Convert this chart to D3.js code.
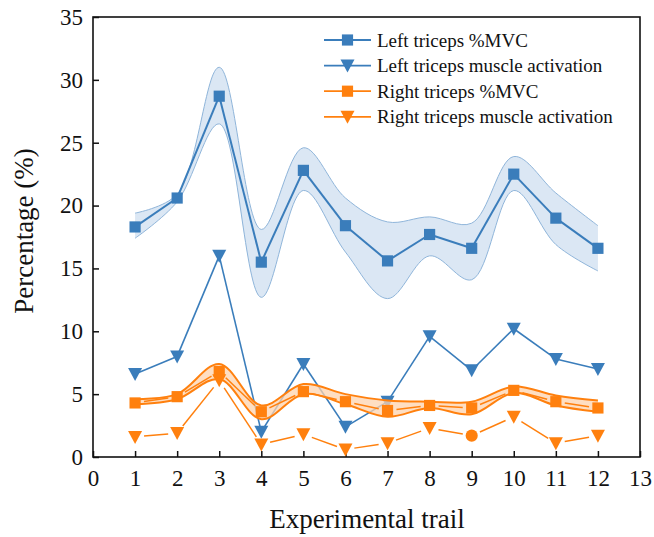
<!DOCTYPE html>
<html>
<head>
<meta charset="utf-8">
<script src="https://cdn.jsdelivr.net/npm/d3@7"></script>
<style>
  body { margin: 0; background: #fff; }
  svg text { font-family: "Liberation Serif", "Times New Roman", serif; fill: #111; }
</style>
</head>
<body>
<script>
//Data
const trials = [1, 2, 3, 4, 5, 6, 7, 8, 9, 10, 11, 12];
const leftMvc = [18.3, 20.6, 28.7, 15.5, 22.8, 18.4, 15.6, 17.7, 16.6, 22.5, 19.0, 16.6];
const leftMvcUpper = [19.4, 20.9, 31.0, 18.1, 24.6, 20.6, 18.7, 19.1, 18.6, 23.9, 21.0, 18.4];
const leftMvcLower = [17.4, 20.3, 26.5, 12.7, 21.2, 16.3, 12.6, 16.0, 14.1, 21.2, 16.9, 14.8];
const leftAct = [6.6, 8.0, 16.0, 2.0, 7.4, 2.4, 4.4, 9.6, 6.9, 10.2, 7.8, 7.0];
const rightMvc = [4.3, 4.8, 6.8, 3.6, 5.2, 4.4, 3.7, 4.1, 3.9, 5.3, 4.4, 3.9];
const rightMvcUpper = [4.6, 5.0, 7.4, 4.1, 5.8, 5.0, 4.5, 4.4, 4.4, 5.6, 4.9, 4.5];
const rightMvcLower = [4.2, 4.6, 6.2, 3.0, 5.0, 4.2, 3.2, 3.9, 3.4, 5.1, 4.1, 3.6];
const rightAct = [1.6, 1.9, 6.1, 1.0, 1.8, 0.6, 1.1, 2.3, 1.7, 3.2, 1.1, 1.7];
const xTicks = d3.range(0, 14);
const yTicks = [0, 5, 10, 15, 20, 25, 30, 35];
const legendLabels = ['Left triceps %MVC', 'Left triceps muscle activation',
                      'Right triceps %MVC', 'Right triceps muscle activation'];

const width = 654;
const height = 537;
const margin = {top: 17, right: 14, bottom: 80, left: 93};
const serif = '"Liberation Serif", "Times New Roman", serif';

const blue = '#3a7dbb';
const orange = '#ff800e';

const svg = d3.select('body').append('svg')
    .attr('width', width)
    .attr('height', height);

const x = d3.scaleLinear().domain([0, 13]).range([margin.left, width - margin.right]);
const y = d3.scaleLinear().domain([0, 35]).range([height - margin.bottom, margin.top]);

//Axes with inward ticks
svg.append('g')
    .attr('transform', `translate(0, ${y(0)})`)
    .call(d3.axisBottom(x).tickValues(xTicks).tickSize(-6).tickPadding(13).tickFormat(d3.format('d')))
    .call(g => g.select('.domain').remove())
    .call(g => g.selectAll('.tick line').attr('stroke', '#111').attr('stroke-width', 1.5))
    .call(g => g.selectAll('.tick text')
        .style('font-family', serif).style('font-size', '23px').attr('fill', '#111'));

svg.append('g')
    .attr('transform', `translate(${x(0)}, 0)`)
    .call(d3.axisLeft(y).tickValues(yTicks).tickSize(-6).tickPadding(10))
    .call(g => g.select('.domain').remove())
    .call(g => g.selectAll('.tick line').attr('stroke', '#111').attr('stroke-width', 1.5))
    .call(g => g.selectAll('.tick text')
        .style('font-family', serif).style('font-size', '23px').attr('fill', '#111'));

//Frame
svg.append('rect')
    .attr('x', x(0))
    .attr('y', y(35))
    .attr('width', x(13) - x(0))
    .attr('height', y(0) - y(35))
    .attr('fill', 'none')
    .attr('stroke', '#111')
    .attr('stroke-width', 1.6);

//Axis titles
svg.append('text')
    .attr('transform', `translate(33, ${(y(0) + y(35)) / 2 - 6}) rotate(-90)`)
    .style('text-anchor', 'middle')
    .style('font-size', '27px')
    .text('Percentage (%)');

svg.append('text')
    .attr('x', 367)
    .attr('y', 528)
    .style('text-anchor', 'middle')
    .style('font-size', '27px')
    .text('Experimental trail');

//Helpers
const band = (upper, lower) => d3.area()
    .x((d, i) => x(trials[i]))
    .y0((d, i) => y(lower[i]))
    .y1((d, i) => y(upper[i]))
    .curve(d3.curveCatmullRom.alpha(0.5))(trials);

const edge = vals => d3.line()
    .x((d, i) => x(trials[i]))
    .y(d => y(d))
    .curve(d3.curveCatmullRom.alpha(0.5))(vals);

const symSquare = d3.symbol().type(d3.symbolSquare).size(125);
const symTri = 'M-7,-6L7,-6L0,7Z';
const symCircle = d3.symbol().type(d3.symbolCircle).size(115);

//Straight polyline with small gaps next to the markers
function drawSeries(vals, color, gap, lw) {
    const pts = vals.map((v, i) => [x(trials[i]), y(v)]);
    const segs = d3.pairs(pts).map(([a, b]) => {
        const dx = b[0] - a[0], dy = b[1] - a[1];
        const len = Math.hypot(dx, dy);
        const g = Math.min(gap, len / 2 - 0.5);
        return [a[0] + dx * g / len, a[1] + dy * g / len, b[0] - dx * g / len, b[1] - dy * g / len];
    });
    svg.append('g').selectAll('line')
        .data(segs)
        .enter()
        .append('line')
        .attr('x1', d => d[0]).attr('y1', d => d[1])
        .attr('x2', d => d[2]).attr('y2', d => d[3])
        .attr('stroke', color)
        .attr('stroke-width', lw);
}

function drawMarkers(vals, color, shape) {
    svg.append('g').selectAll('path')
        .data(vals)
        .enter()
        .append('path')
        .attr('transform', (d, i) => `translate(${x(trials[i])}, ${y(d)})`)
        .attr('d', shape)
        .attr('fill', color);
}

//Left triceps band
svg.append('path')
    .attr('d', band(leftMvcUpper, leftMvcLower))
    .attr('fill', '#dbe7f4');
svg.append('path').attr('d', edge(leftMvcUpper)).attr('fill', 'none').attr('stroke', '#8fb5da').attr('stroke-width', 1);
svg.append('path').attr('d', edge(leftMvcLower)).attr('fill', 'none').attr('stroke', '#8fb5da').attr('stroke-width', 1);

//Left series
drawSeries(leftMvc, blue, 0, 2);
drawMarkers(leftMvc, blue, symSquare);
drawSeries(leftAct, blue, 0, 1.6);
drawMarkers(leftAct, blue, symTri);

//Right triceps band
svg.append('path')
    .attr('d', band(rightMvcUpper, rightMvcLower))
    .attr('fill', '#fdd3ad')
    .attr('fill-opacity', 0.75);
svg.append('path').attr('d', edge(rightMvcUpper)).attr('fill', 'none').attr('stroke', orange).attr('stroke-width', 2);
svg.append('path').attr('d', edge(rightMvcLower)).attr('fill', 'none').attr('stroke', orange).attr('stroke-width', 2);

//Right series
drawSeries(rightMvc, orange, 9, 1.5);
drawMarkers(rightMvc, orange, symSquare);
drawSeries(rightAct, orange, 9, 1.5);
svg.append('g').selectAll('path')
    .data(rightAct)
    .enter()
    .append('path')
    .attr('transform', (d, i) => `translate(${x(trials[i])}, ${y(d)})`)
    .attr('d', (d, i) => trials[i] === 9 ? symCircle() : symTri)
    .attr('fill', orange);

//Legend
const legend = svg.append('g')
    .attr('transform', 'translate(324, 40)');

const legendItems = legend.selectAll('g')
    .data(legendLabels)
    .enter()
    .append('g')
    .attr('transform', (d, i) => `translate(0, ${i * 25.6})`);

legendItems.append('line')
    .attr('x1', 0).attr('x2', 47)
    .attr('stroke', (d, i) => i < 2 ? blue : orange)
    .attr('stroke-width', 1.8);

legendItems.append('path')
    .attr('transform', 'translate(23.5, 0)')
    .attr('d', (d, i) => i % 2 === 0 ? symSquare() : symTri)
    .attr('fill', (d, i) => i < 2 ? blue : orange);

legendItems.append('text')
    .attr('x', 53)
    .attr('dy', '0.35em')
    .style('font-size', '19px')
    .text(d => d);
</script>
</body>
</html>
